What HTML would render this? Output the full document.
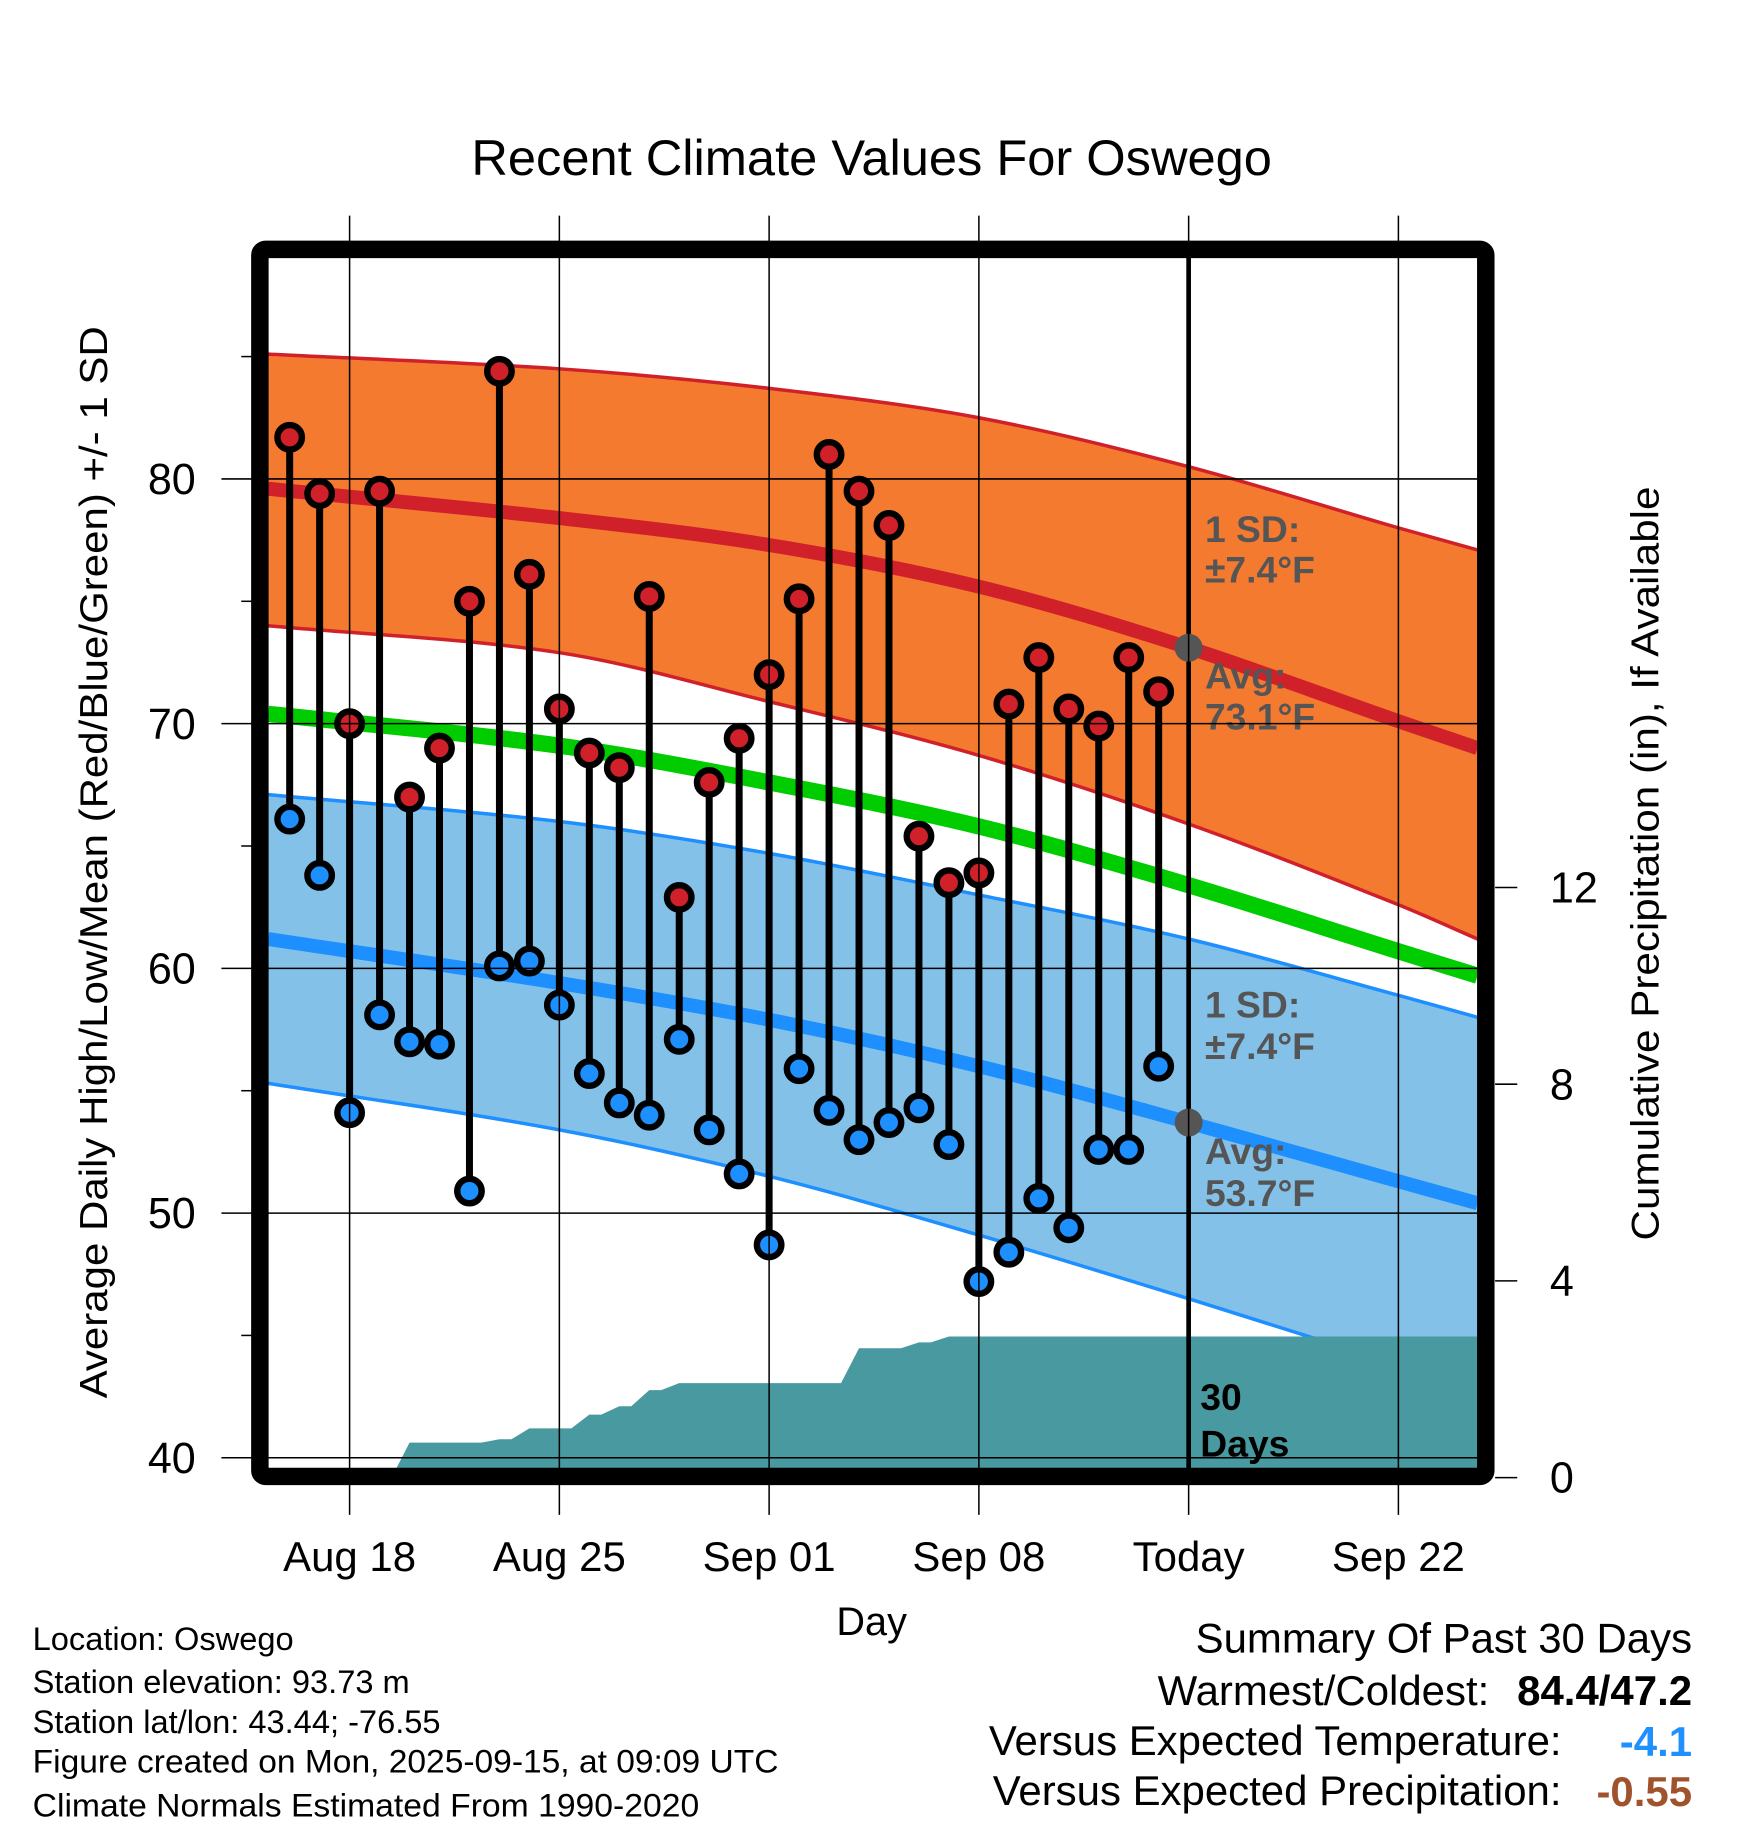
<!DOCTYPE html>
<html><head><meta charset="utf-8"><style>
html,body{margin:0;padding:0;background:#fff;}
svg{display:block;font-family:"Liberation Sans",sans-serif;}
</style></head><body>
<svg id="chart" width="1748" height="1828" viewBox="0 0 1500 1568.7" preserveAspectRatio="none" xmlns="http://www.w3.org/2000/svg">
<g id="plot"></g>
<text x="748" y="150" font-size="43" text-anchor="middle" textLength="687" lengthAdjust="spacingAndGlyphs">Recent Climate Values For Oswego</text>
<text transform="translate(92,740) rotate(-90)" font-size="33" text-anchor="middle" textLength="920" lengthAdjust="spacingAndGlyphs">Average Daily High/Low/Mean (Red/Blue/Green) +/- 1 SD</text>
<text transform="translate(1423,741) rotate(-90)" font-size="33" text-anchor="middle" textLength="647" lengthAdjust="spacingAndGlyphs">Cumulative Precipitation (in), If Available</text>
<text x="748" y="1403" font-size="34" text-anchor="middle">Day</text>
<g font-size="28">
<text x="28" y="1416">Location: Oswego</text>
<text x="28" y="1453">Station elevation: 93.73 m</text>
<text x="28" y="1487">Station lat/lon: 43.44; -76.55</text>
<text x="28" y="1521" textLength="640" lengthAdjust="spacingAndGlyphs">Figure created on Mon, 2025-09-15, at 09:09 UTC</text>
<text x="28" y="1559" textLength="572" lengthAdjust="spacingAndGlyphs">Climate Normals Estimated From 1990-2020</text>
</g>
<g font-size="36" text-anchor="end">
<text x="1452" y="1418">Summary Of Past 30 Days</text>
<text x="1278" y="1463">Warmest/Coldest:</text>
<text x="1452" y="1463" font-weight="bold">84.4/47.2</text>
<text x="1340" y="1506">Versus Expected Temperature:</text>
<text x="1452" y="1507" font-weight="bold" fill="#2090ff">-4.1</text>
<text x="1340" y="1549">Versus Expected Precipitation:</text>
<text x="1452" y="1550" font-weight="bold" fill="#a0522d">-0.55</text>
</g>
</svg>
<script>
// days offset from Aug 18
const obsDays = [-2,-1,0,1,2,3,4,5,6,7,8,9,10,11,12,13,14,15,16,17,18,19,20,21,22,23,24,25,26,27];
const highs = [81.7,79.4,70.0,79.5,67.0,69.0,75.0,84.4,76.1,70.6,68.8,68.2,75.2,62.9,67.6,69.4,72.0,75.1,81.0,79.5,78.1,65.4,63.5,63.9,70.8,72.7,70.6,69.9,72.7,71.3];
const lows = [66.1,63.8,54.1,58.1,57.0,56.9,50.9,60.1,60.3,58.5,55.7,54.5,54.0,57.1,53.4,51.6,48.7,55.9,54.2,53.0,53.7,54.3,52.8,47.2,48.4,50.6,49.4,52.6,52.6,56.0];
const precipCum = [0,0,0,0,0.71,0.71,0.71,0.78,1.0,1.0,1.28,1.45,1.78,1.92,1.92,1.92,1.92,1.92,1.92,2.63,2.63,2.75,2.87,2.87,2.87,2.87,2.87,2.87,2.87,2.87];
const normDays = [-2.72,7,14,21,28,35,37.64];
const highUpper = [85.1,84.5,83.7,82.5,80.5,78.0,77.1];
const highAvg = [79.6,78.4,77.3,75.6,73.1,70.1,69.0];
const highLower = [74.0,72.9,70.9,68.7,65.9,62.6,61.2];
const meanAvg = [70.4,69.1,67.6,65.8,63.4,60.7,59.7];
const lowUpper = [67.1,66.0,64.7,63.0,61.2,58.9,58.0];
const lowAvg = [61.2,59.4,57.9,56.0,53.7,51.3,50.4];
const lowLower = [55.3,53.4,51.5,49.1,46.5,43.8,42.8];
const xTickDays = [0,7,14,21,28,35];
const xTickLabels = ["Aug 18","Aug 25","Sep 01","Sep 08","Today","Sep 22"];
const yTicks = [40,50,60,70,80];
const y2Ticks = [0,4,8,12];

const X0=230,X1=1268,Y0=221,Y1=1260;
const x = d => 300 + d*180/7;
const y = t => 1251 - 21*(t-40);
const yp = p => 1268 - 42.2*p;
const NS="http://www.w3.org/2000/svg";
const plot=document.getElementById('plot');
function mk(tag, attrs, parent){const e=document.createElementNS(NS,tag);for(const k in attrs)e.setAttribute(k,attrs[k]);(parent||plot).appendChild(e);return e;}
function smooth(ds,vs){
  const P=ds.map((d,i)=>[x(d),y(vs[i])]);
  const n=P.length;
  const T=P.map((p,i)=>{
    const a=P[Math.max(0,i-1)],b=P[Math.min(n-1,i+1)];
    return (b[1]-a[1])/(b[0]-a[0]);
  });
  let s='M'+P[0][0].toFixed(1)+','+P[0][1].toFixed(1);
  for(let i=0;i<n-1;i++){
    const p1=P[i],p2=P[i+1],h=(p2[0]-p1[0])/3;
    s+=' C'+(p1[0]+h).toFixed(1)+','+(p1[1]+T[i]*h).toFixed(1)+' '+(p2[0]-h).toFixed(1)+','+(p2[1]-T[i+1]*h).toFixed(1)+' '+p2[0].toFixed(1)+','+p2[1].toFixed(1);
  }
  return s;
}
function band(ds,up,lo){
  const a=smooth(ds,up);
  const r=smooth(ds.slice().reverse(),lo.slice().reverse());
  return a+' L'+r.slice(1)+' Z';
}

const defs=mk('defs',{});const cp=mk('clipPath',{id:'clip'},defs);mk('rect',{x:X0,y:Y0,width:X1-X0,height:Y1-Y0},cp);
const g=mk('g',{'clip-path':'url(#clip)'});

let b=mk('path',{d:band(normDays,highUpper,highLower),fill:'#f47a30'},g);


b=mk('path',{d:band(normDays,lowUpper,lowLower),fill:'#84c1e8'},g);



xTickDays.forEach(d=>{mk('line',{x1:x(d),x2:x(d),y1:185,y2:1300,stroke:'#000','stroke-width':1.3});});
yTicks.forEach(t=>{mk('line',{x1:190,x2:X1,y1:y(t),y2:y(t),stroke:'#000','stroke-width':1.3});});
[45,55,65,75,85].forEach(t=>{mk('line',{x1:207,x2:220,y1:y(t),y2:y(t),stroke:'#000','stroke-width':1.3});});

const lines=[[highUpper,'#d0202a',3,'high-upper-line'],[highLower,'#d0202a',3,'high-lower-line'],[lowUpper,'#1e8fff',3,'low-upper-line'],[lowLower,'#1e8fff',3,'low-lower-line'],[highAvg,'#d0202a',12,'avg-high-line'],[meanAvg,'#00cc00',14,'avg-mean-line'],[lowAvg,'#1e8fff',12,'avg-low-line']];
lines.forEach(l=>{const e=mk('path',{d:smooth(normDays,l[0]),fill:'none',stroke:l[1],'stroke-width':l[2]},g);

});

const pp=[x(obsDays[0]-0.5)+','+Y1];
obsDays.forEach((d,i)=>{ if(i>0 && precipCum[i]!==precipCum[i-1]) pp.push(x(d-0.6)+','+yp(precipCum[i-1])); pp.push(x(d)+','+yp(precipCum[i])); });
pp.push(X1+','+yp(precipCum[precipCum.length-1]));pp.push(X1+','+Y1);
const pa=mk('polygon',{points:pp.join(' '),fill:'#4899a0'},g);



const ann=mk('g',{fill:'#555','font-weight':'bold','font-size':'32'},g);
[['1 SD:',465],['±7.4°F',500],['Avg:',591],['73.1°F',626],['1 SD:',873],['±7.4°F',909],['Avg:',999],['53.7°F',1035]].forEach(a=>{const t=mk('text',{x:1034,y:a[1]},ann);t.textContent=a[0];});
const dtx=mk('g',{fill:'#000','font-weight':'bold','font-size':'32'},g);
[['30',1210],['Days',1250]].forEach(a=>{const t=mk('text',{x:1030,y:a[1]},dtx);t.textContent=a[0];});

const tl=mk('line',{x1:x(28),x2:x(28),y1:Y0,y2:Y1,stroke:'#000','stroke-width':4},g);


mk('circle',{cx:x(28),cy:y(highAvg[4]),r:12,fill:'#555'},g);
mk('circle',{cx:x(28),cy:y(lowAvg[4]),r:12,fill:'#555'},g);

obsDays.forEach((d,i)=>{
  const s=mk('line',{x1:x(d),x2:x(d),y1:y(highs[i]),y2:y(lows[i]),stroke:'#000','stroke-width':6},g);
  
  
  const h=mk('circle',{cx:x(d),cy:y(highs[i]),r:10.5,fill:'#d0202a',stroke:'#000','stroke-width':5.5},g);
  
  
  const l=mk('circle',{cx:x(d),cy:y(lows[i]),r:10.5,fill:'#1e8fff',stroke:'#000','stroke-width':5.5},g);
  
  
});

const fr=mk('rect',{x:223,y:214,width:1052,height:1053,rx:5,fill:'none',stroke:'#000','stroke-width':15});



xTickDays.forEach((d,i)=>{const t=mk('text',{x:x(d),y:1348,'font-size':36,'text-anchor':'middle'});


t.textContent=xTickLabels[i];});
yTicks.forEach(t=>{const e=mk('text',{x:168,y:y(t)+13,'font-size':37,'text-anchor':'end'});


e.textContent=t;});
y2Ticks.forEach(p=>{mk('line',{x1:1283,x2:1302,y1:yp(p),y2:yp(p),stroke:'#000','stroke-width':1.3});
const e=mk('text',{x:1330,y:yp(p)+13,'font-size':37});


e.textContent=p;});
</script>
</body></html>
